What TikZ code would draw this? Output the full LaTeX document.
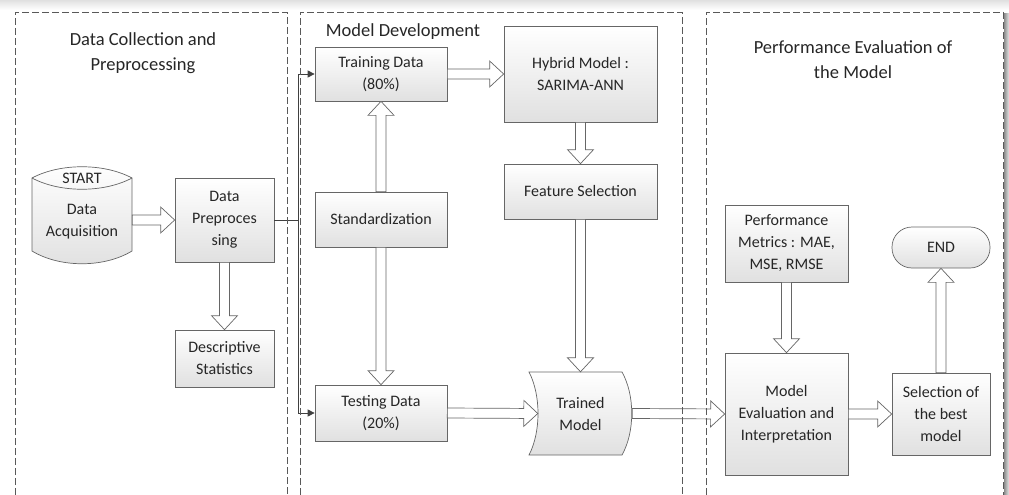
\documentclass[tikz,border=0pt]{standalone}
\usepackage{fontspec}
\setmainfont{Carlito}
\usetikzlibrary{calc,arrows.meta}
\def\blockarrow(#1)(#2){\draw[blockarr] ($(#1)!5pt!90:(#2)$) -- ($(#2)!14pt!(#1)!5pt!-90:(#1)$) -- ($(#2)!14pt!(#1)!13pt!-90:(#1)$) -- (#2) -- ($(#2)!14pt!(#1)!13pt!90:(#1)$) -- ($(#2)!14pt!(#1)!5pt!90:(#1)$) -- ($(#1)!5pt!-90:(#2)$) -- cycle;}

\tikzset{
	panel/.style={draw=black!65, line width=0.8pt, dash pattern=on 7pt off 3pt},
	box/.style={draw=black!60, line width=0.7pt, top color=white, bottom color=black!12, align=center, inner sep=0pt, text=black!85},
	shapefill/.style={draw=black!60, line width=0.7pt, top color=white, bottom color=black!12},
	blockarr/.style={draw=black!60, line width=0.7pt, fill=white},
	conn/.style={draw=black!75, line width=0.8pt, -{Triangle[length=7pt,width=7pt]}},
	title/.style={align=center, font=\fontsize{18.5}{25}\selectfont, text=black!85},
}

\begin{document}
\begin{tikzpicture}[x=1pt, y=-1pt, font=\fontsize{16}{22}\selectfont]
		%%%%% START %%%%%
		\useasboundingbox (0,0) rectangle (1009,495);
		\shade[top color=black!12, bottom color=white] (0,0) rectangle (1009,10);
		\shade[left color=black!45, right color=black!10] (1004,14) rectangle (1009,495);
		
		% titles
		\node[title] (ttlcollect) at (143,53) {Data Collection and\\Preprocessing};
		\node[title] (ttlmodel) at (403,32) {Model Development};
		\node[title] (ttlperf) at (853,60) {Performance Evaluation of\\the Model};
		
		% data collection
		\draw[shapefill] (32,178) .. controls (60,163) and (104,163) .. (132,178) -- (132,251) .. controls (104,268) and (60,268) .. (32,251) -- cycle;
		\draw[draw=black!60, line width=0.7pt] (32,178) .. controls (60,193) and (104,193) .. (132,178);
		\node[text=black!85] (start) at (82,178) {START};
		\node[align=center, text=black!85, minimum width=100pt, minimum height=60pt, inner sep=0pt] (acq) at (82,222) {Data\\Acquisition};
		
		\node[box, minimum width=99pt, minimum height=84pt] (prep) at (224.5,220) {Data\\Preproces\\sing};
		\node[box, minimum width=99pt, minimum height=57pt] (desc) at (224.5,358.5) {Descriptive\\Statistics};
		
		\blockarrow(acq.east |- prep.west)(prep.west)
		\blockarrow(prep.south)(desc.north)
		
		% model development
		\node[box, minimum width=132pt, minimum height=54pt] (train) at (381,74) {Training Data\\(80\%)};
		\node[box, minimum width=132pt, minimum height=55pt] (std) at (381,219.5) {Standardization};
		\node[box, minimum width=132pt, minimum height=56pt] (test) at (381,413) {Testing Data\\(20\%)};
		\node[box, minimum width=153pt, minimum height=96pt] (hybrid) at (580.5,74) {Hybrid Model :\\SARIMA-ANN};
		\node[box, minimum width=153pt, minimum height=55pt] (feat) at (580.5,191.5) {Feature Selection};
		
		\draw[shapefill] (529,372) -- (622,372) .. controls (635,395) and (635,432) .. (622,455) -- (529,455) .. controls (541,432) and (541,395) .. (529,372) -- cycle;
		\node[align=center, text=black!85, minimum width=103pt, minimum height=83pt, inner sep=0pt] (trained) at (580.5,413.5) {Trained\\Model};
		\coordinate (trainedin) at ($(trained.west)+(9,0)$);
		
		\draw[draw=black!75, line width=0.8pt] (prep.east) -- ++(24,0) coordinate (split);
		\draw[conn] (split) |- (train.west);
		\draw[conn] (split) |- (test.west);
		
		\blockarrow(train.east)(hybrid.west)
		\blockarrow(hybrid.south)(feat.north)
		\blockarrow(std.north)(train.south)
		\blockarrow(std.south)(test.north)
		\blockarrow(feat.south)(trained.north)
		\blockarrow(test.east)(trainedin)
		
		% performance evaluation
		\node[box, minimum width=123pt, minimum height=77pt] (metrics) at (786.5,243.5) {Performance\\Metrics : MAE,\\MSE, RMSE};
		\node[box, minimum width=123pt, minimum height=122pt] (eval) at (786.5,414) {Model\\Evaluation and\\Interpretation};
		\node[box, minimum width=98pt, minimum height=82pt] (sel) at (941,414) {Selection of\\the best\\model};
		\node[box, minimum width=98pt, minimum height=41pt, rounded corners=20pt] (end) at (941,247.5) {END};
		
		\blockarrow(trained.east)(eval.west)
		\blockarrow(metrics.south)(eval.north)
		\blockarrow(eval.east)(sel.west)
		\blockarrow(sel.north)(end.south)
		
		% panels
		\draw[panel] (15,495) -- (15,12) -- (287,12) -- (287,495);
		\draw[panel] (300,495) -- (300,12) -- (682,12) -- (682,495);
		\draw[panel] (706,495) -- (706,12) -- (1003,12) -- (1003,495);
		
		%%%%% END %%%%%
\end{tikzpicture}
\end{document}
